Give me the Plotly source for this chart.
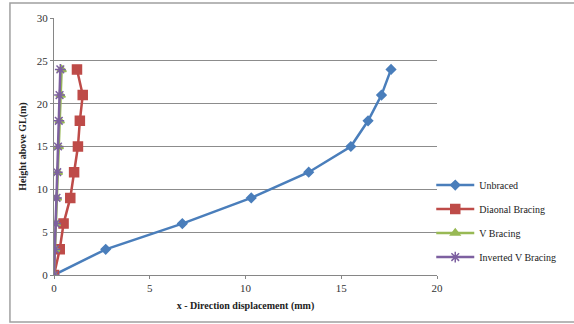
import plotly.graph_objects as go

heights = [0, 3, 6, 9, 12, 15, 18, 21, 24]
unbraced = [0, 2.7, 6.7, 10.3, 13.3, 15.5, 16.4, 17.1, 17.6]
diagonal = [0, 0.3, 0.5, 0.85, 1.05, 1.25, 1.35, 1.5, 1.2]
v_bracing = [0, 0.06, 0.1, 0.15, 0.2, 0.25, 0.3, 0.35, 0.4]
inv_v = [0, 0.05, 0.09, 0.13, 0.17, 0.21, 0.25, 0.29, 0.33]

names = ["Unbraced", "Diaonal Bracing", "V Bracing", "Inverted V Bracing"]
colors = ["#4a7ebb", "#be4b48", "#98b954", "#7d60a0"]
symbols = ["diamond", "square", "triangle-up", "asterisk-open"]
sizes = [7, 9, 8, 9]
series = [unbraced, diagonal, v_bracing, inv_v]

fig = go.Figure()
for i, (nm, xs) in enumerate(zip(names, series)):
    fig.add_trace(go.Scatter(
        x=xs, y=heights, name=nm, mode="lines+markers", legendgroup=nm,
        line=dict(color=colors[i], width=2.5),
        marker=dict(symbol=symbols[i], size=sizes[i], color=colors[i],
                    line=dict(color=colors[i], width=1.5)),
    ))

font = "Liberation Serif, Times New Roman, serif"
fig.update_layout(
    width=574, height=324,
    margin=dict(l=54, r=137, t=18, b=49, autoexpand=False),
    paper_bgcolor="white", plot_bgcolor="white",
    font=dict(family=font, size=11, color="#333"),
    showlegend=True,
    legend=dict(x=0.985, xanchor="left", y=0.21, yanchor="middle",
                font=dict(family=font, size=10, color="#222"),
                tracegroupgap=5, itemwidth=38, bgcolor="rgba(0,0,0,0)"),
    xaxis=dict(range=[0, 20], dtick=5, showgrid=False, zeroline=False, automargin=False,
               showline=True, linecolor="#868686", linewidth=1,
               ticks="outside", ticklen=3, tickcolor="#868686",
               tickfont=dict(family=font, size=11, color="#333"),
               title=dict(text="<b>x - Direction displacement (mm)</b>",
                          font=dict(family=font, size=10, color="#222"), standoff=8)),
    yaxis=dict(range=[0, 30], dtick=5, showgrid=True, gridcolor="#8c8c8c", gridwidth=1,
               zeroline=False, showline=True, linecolor="#868686", linewidth=1, automargin=False,
               ticks="outside", ticklen=3, tickcolor="#868686",
               tickfont=dict(family=font, size=11, color="#333"),
               title=dict(text="<b>Height above GL(m)</b>",
                          font=dict(family=font, size=10, color="#222"), standoff=8)),
    shapes=[dict(type="rect", xref="paper", yref="paper",
                 x0=-0.115, x1=1.37, y0=-0.183, y1=1.058,
                 line=dict(color="#a0a0a0", width=1.5))],
)

fig.write_html("out.html", config={"displayModeBar": False},
               post_script="document.body.style.margin='0';")
